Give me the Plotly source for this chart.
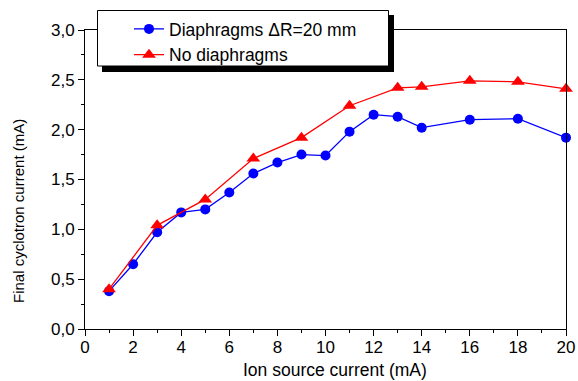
import plotly.graph_objects as go

# Data
x_diaph = [1, 2, 3, 4, 5, 6, 7, 8, 9, 10, 11, 12, 13, 14, 16, 18, 20]
y_diaph = [0.38, 0.65, 0.97, 1.17, 1.20, 1.37, 1.56, 1.67, 1.75, 1.74, 1.98, 2.15, 2.13, 2.02, 2.10, 2.11, 1.92]
x_nodiaph = [1, 3, 5, 7, 9, 11, 13, 14, 16, 18, 20]
y_nodiaph = [0.40, 1.04, 1.30, 1.71, 1.92, 2.24, 2.42, 2.43, 2.49, 2.48, 2.41]
name_diaph = "Diaphragms \u0394R=20 mm"
name_nodiaph = "No diaphragms"
x_title = "Ion source current (mA)"
y_title = "Final cyclotron current (mA)"

FONT = "Liberation Sans, Arial, sans-serif"

fig = go.Figure()
fig.add_trace(go.Scatter(
    x=x_diaph, y=y_diaph, name=name_diaph, mode="lines+markers",
    line=dict(color="#0000ff", width=1.3),
    marker=dict(symbol="circle", size=10, color="#0000ff"),
    cliponaxis=False,
))
fig.add_trace(go.Scatter(
    x=x_nodiaph, y=y_nodiaph, name=name_nodiaph, mode="lines+markers",
    line=dict(color="#ff0000", width=1.3),
    marker=dict(symbol="triangle-up", size=12, color="#ff0000"),
    cliponaxis=False,
))

W, H = 578, 381
ml, mr, mt, mb = 85, 12, 30, 52
pw = W - ml - mr
ph = H - mt - mb

def px2paper(px, py):
    return (px - ml) / pw, 1 - (py - mt) / ph

# legend box + shadow
sx0, sy0 = px2paper(102, 15)
sx1, sy1 = px2paper(394, 72)
bx0, by0 = px2paper(97.5, 10.5)
bx1, by1 = px2paper(388.5, 66)

shapes = [
    dict(type="rect", xref="paper", yref="paper", x0=sx0, y0=sy0, x1=sx1, y1=sy1,
         fillcolor="black", line=dict(width=0), layer="above"),
    dict(type="rect", xref="paper", yref="paper", x0=bx0, y0=by0, x1=bx1, y1=by1,
         fillcolor="white", line=dict(color="black", width=1), layer="above"),
]

lx, ly = px2paper(129, 11)
ytx, yty = px2paper(18, 211)
xtx, xty = px2paper(335, 369.5)

fig.update_layout(
    width=W, height=H,
    margin=dict(l=ml, r=mr, t=mt, b=mb, autoexpand=False),
    paper_bgcolor="white", plot_bgcolor="white",
    separators=",.",
    font=dict(family=FONT, size=17, color="black"),
    showlegend=True,
    legend=dict(
        x=lx, y=ly, xanchor="left", yanchor="top",
        bgcolor="rgba(0,0,0,0)", borderwidth=0,
        font=dict(family=FONT, size=17.5, color="black"),
        tracegroupgap=0, itemwidth=30,
    ),
    shapes=shapes,
    annotations=[
        dict(text=y_title, xref="paper", yref="paper", x=ytx, y=yty,
             xanchor="center", yanchor="middle", textangle=-90, showarrow=False,
             font=dict(family=FONT, size=15, color="black")),
        dict(text=x_title, xref="paper", yref="paper", x=xtx, y=xty,
             xanchor="center", yanchor="middle", showarrow=False,
             font=dict(family=FONT, size=17.5, color="black")),
    ],
    xaxis=dict(
        range=[0, 20], dtick=2, tick0=0, automargin=False,
        showgrid=False, zeroline=False,
        showline=True, linecolor="black", linewidth=1, mirror=True,
        ticks="outside", ticklen=6, tickwidth=1, tickcolor="black",
        minor=dict(dtick=1, ticks="outside", ticklen=3, tickcolor="black", showgrid=False),
        tickfont=dict(family=FONT, size=17), ticklabelstandoff=-3,
    ),
    yaxis=dict(
        range=[0, 3.0], dtick=0.5, tick0=0, tickformat=".1f", automargin=False,
        showgrid=False, zeroline=False,
        showline=True, linecolor="black", linewidth=1, mirror=True,
        ticks="outside", ticklen=6, tickwidth=1, tickcolor="black",
        minor=dict(dtick=0.25, ticks="outside", ticklen=3, tickcolor="black", showgrid=False),
        tickfont=dict(family=FONT, size=17),
    ),
)

fig.write_html("out.html")
